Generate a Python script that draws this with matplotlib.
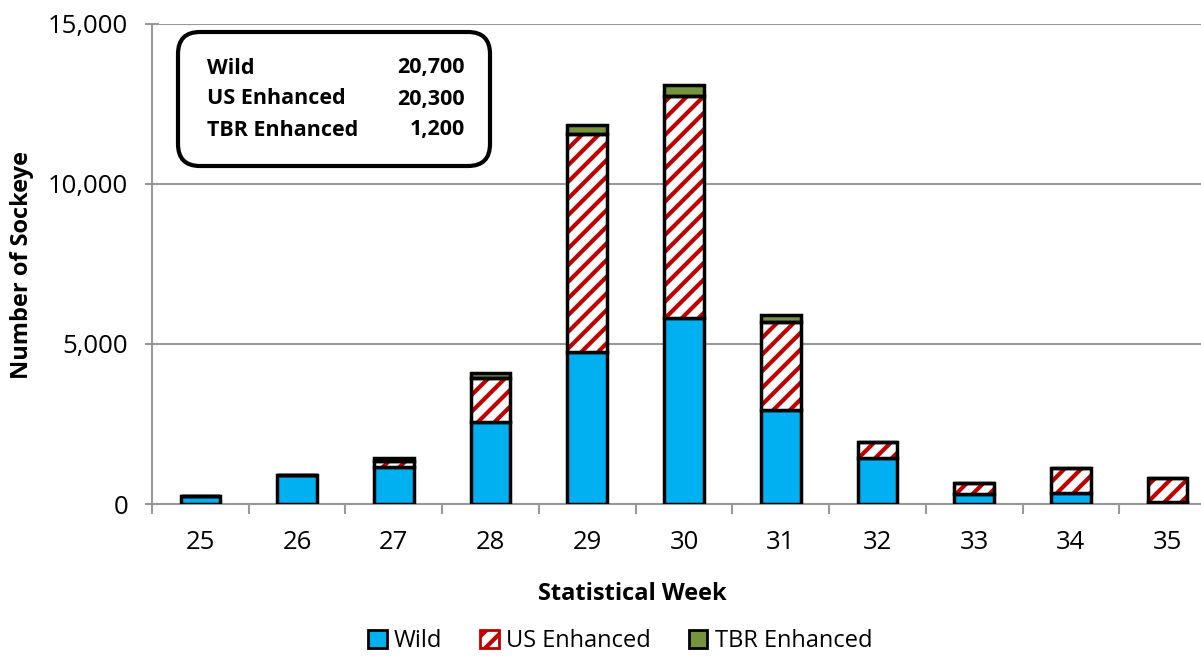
import numpy as np
import matplotlib.pyplot as plt
from matplotlib.patches import FancyBboxPatch, Patch

plt.rcParams['font.family'] = ['Open Sans', 'DejaVu Sans']
plt.rcParams['hatch.linewidth'] = 3.0

weeks = ['25', '26', '27', '28', '29', '30', '31', '32', '33', '34', '35']
wild = [250, 900, 1150, 2550, 4750, 5800, 2950, 1450, 320, 330, 50]
us_enh = [0, 0, 200, 1400, 6800, 6950, 2750, 500, 350, 800, 750]
tbr_enh = [0, 0, 100, 150, 300, 350, 200, 0, 0, 0, 0]

totals_names = ['Wild', 'US Enhanced', 'TBR Enhanced']
totals_vals = ['20,700', '20,300', '1,200']

c_wild = '#00B0F0'
c_red = '#C00000'
c_green = '#77933C'

W, H = 1201, 656
fig = plt.figure(figsize=(W / 100, H / 100), dpi=100)
# the plot area runs past the right edge of the picture, as in the reference
ax = fig.add_axes([152 / W, 1 - 504 / H, 1064 / W, 480 / H])

x = np.arange(len(weeks))
w = 0.41
wild = np.array(wild)
us_enh = np.array(us_enh)
tbr_enh = np.array(tbr_enh)

ax.bar(x, wild, w, color=c_wild, edgecolor='black', linewidth=2.5, zorder=3)
# hatched US enhanced: red hatch on white, then black outline
ax.bar(x, us_enh, w, bottom=wild, color='white', edgecolor=c_red,
       hatch='//', linewidth=0, zorder=3)
ax.bar(x, us_enh, w, bottom=wild, fill=False, edgecolor='black',
       linewidth=2.5, zorder=4)
ax.bar(x, tbr_enh, w, bottom=wild + us_enh, color=c_green, edgecolor='black',
       linewidth=2.5, zorder=3)

ax.set_xlim(-0.5, len(weeks) - 0.5)
ax.set_ylim(0, 15000)
ax.set_yticks([0, 5000, 10000, 15000])
ax.set_yticklabels(['0', '5,000', '10,000', '15,000'])
ax.set_xticks(x)
ax.set_xticklabels(weeks)
ax.set_xticks(np.arange(-0.5, len(weeks), 1), minor=True)
ax.tick_params(axis='x', which='major', length=0, pad=19, labelsize=18.5)
ax.tick_params(axis='x', which='minor', length=7, color='#999999', width=1.5)
ax.tick_params(axis='y', direction='inout', length=10, color='#999999', width=1.5,
               labelsize=18.5, pad=12)
ax.yaxis.grid(True, color='#999999', linewidth=1.5, zorder=0)

for s in ['top', 'right']:
    ax.spines[s].set_visible(False)
for s in ['left', 'bottom']:
    ax.spines[s].set_color('#999999')
    ax.spines[s].set_linewidth(1.5)

ax.set_xlabel('Statistical Week', fontsize=17, fontweight='bold', va='top')
ax.xaxis.set_label_coords((632 - 152) / 1064, -(582 - 504) / 480)
ax.set_ylabel('Number of Sockeye', fontsize=17, fontweight='bold')
ax.yaxis.set_label_coords(-(152 - 34) / 1064, (504 - 265) / 480)

# totals box
box = FancyBboxPatch((178, H - 166), 312, 134, boxstyle='round,pad=0,rounding_size=22',
                     transform=None, facecolor='white', edgecolor='black',
                     linewidth=3, zorder=5)
fig.patches.append(box)
for i, (n, v) in enumerate(zip(totals_names, totals_vals)):
    ypx = 68 + i * 31
    fig.text(207 / W, 1 - ypx / H, n, fontsize=15.5, fontweight='bold',
             va='center', ha='left', zorder=6)
    fig.text(465 / W, 1 - ypx / H, v, fontsize=15.5, fontweight='bold',
             va='center', ha='right', zorder=6)

handles = [Patch(facecolor=c_wild, edgecolor='black', linewidth=2),
           Patch(facecolor='white', edgecolor=c_red, hatch='//', linewidth=2),
           Patch(facecolor=c_green, edgecolor='black', linewidth=2)]
fig.legend(handles, totals_names, loc='center', bbox_to_anchor=(620 / W, 1 - 641 / H),
           ncol=3, frameon=False, fontsize=17, handlelength=0.8, handleheight=0.8,
           handletextpad=0.3, columnspacing=1.6)

fig.savefig('out.png', dpi=100)
